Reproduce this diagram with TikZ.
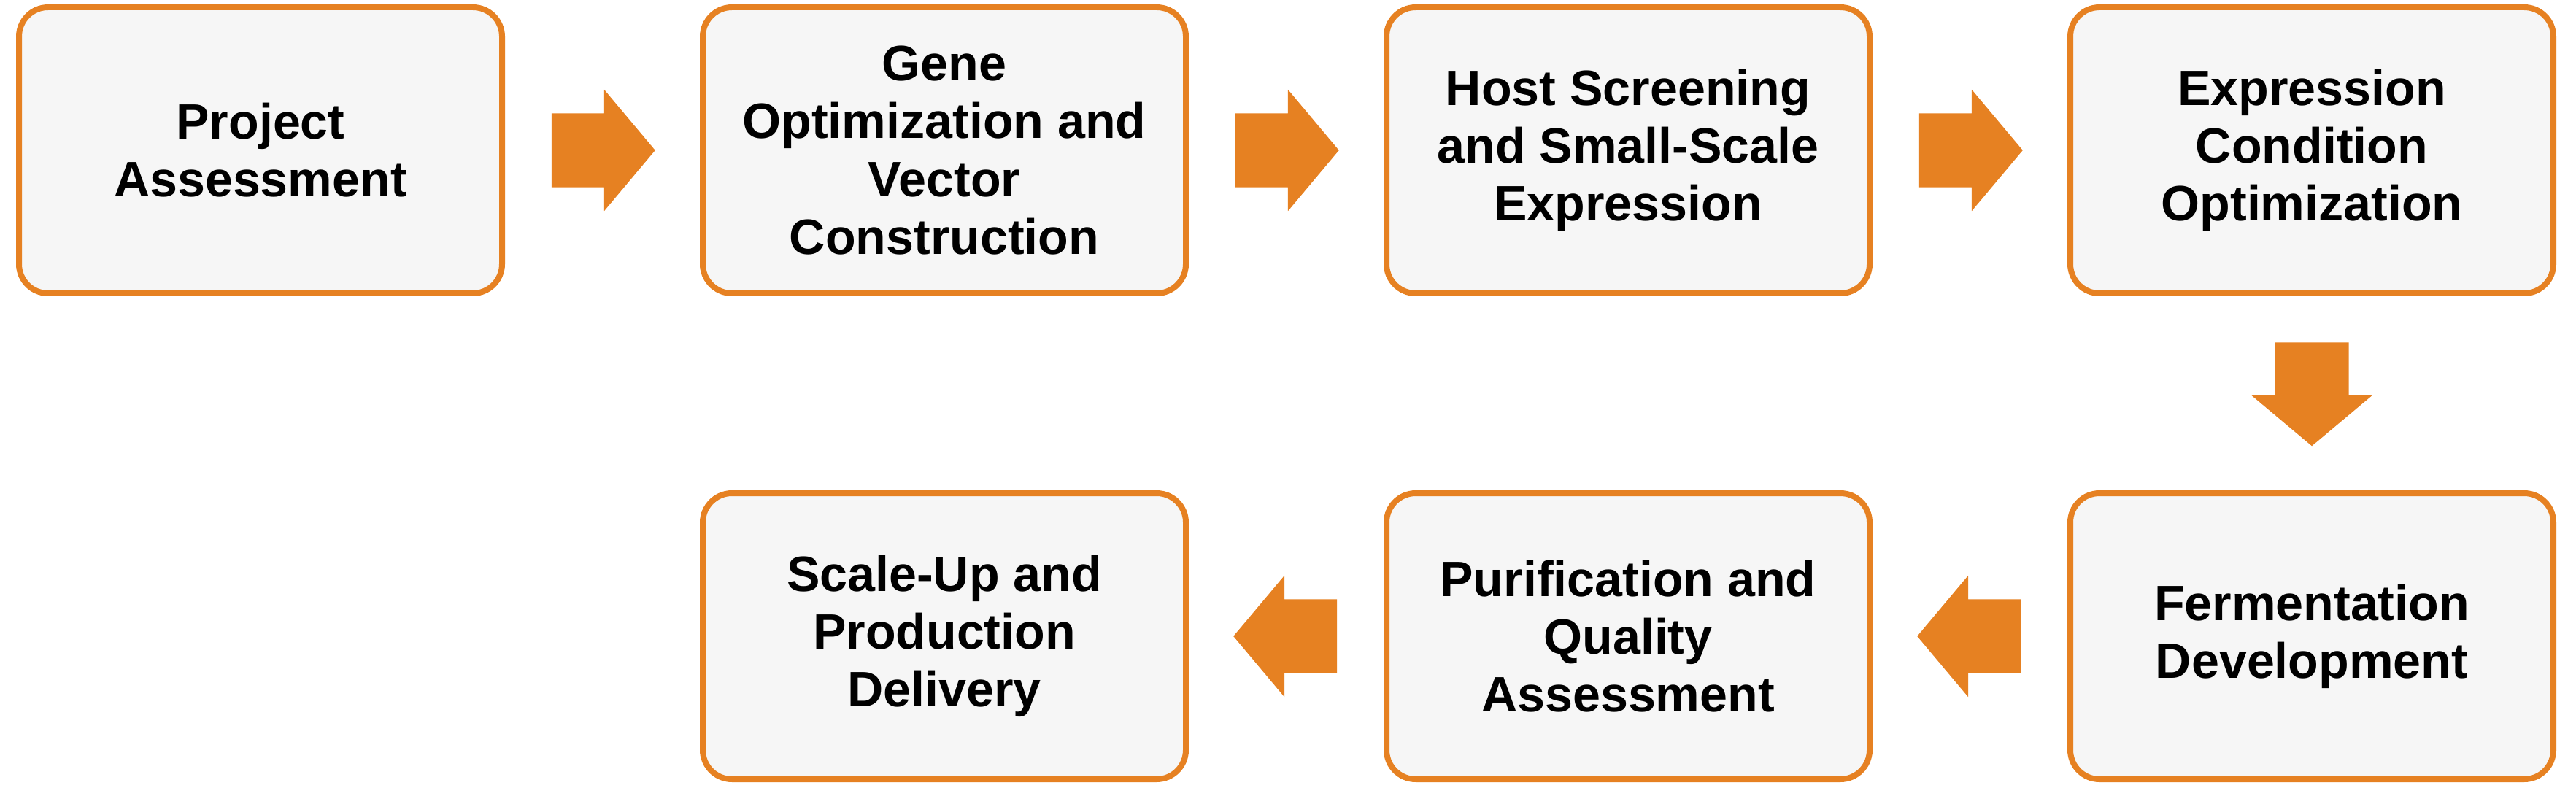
\documentclass[tikz,border=0pt]{standalone}
\usepackage{fontspec}
\setmainfont{Liberation Sans}
\usetikzlibrary{positioning,shapes.arrows}
\definecolor{stageorange}{RGB}{230,129,34}
\definecolor{stagefill}{RGB}{246,246,246}

\begin{document}
\begin{tikzpicture}[
    node distance=2.66cm and 2.67cm,
    stage/.style={draw=stageorange, line width=0.08cm, rounded corners=0.4cm, fill=stagefill,
                  minimum width=6.62cm, minimum height=3.92cm, align=center,
                  font=\bfseries\fontsize{19.4}{22.5}\selectfont},
    arr/.style={single arrow, fill=stageorange, draw=none, inner sep=0pt, inner ysep=0.5cm,
                minimum height=1.42cm, single arrow head extend=0.325cm,
                single arrow tip angle=100},
]
    \useasboundingbox (0,0) rectangle (35.30,-10.80);

    \node[stage] (p1) at (3.57,-2.06) {Project\\Assessment};
    \node[stage, right=of p1] (p2) {Gene\\Optimization and\\Vector\\Construction};
    \node[stage, right=of p2] (p3) {Host Screening\\and Small-Scale\\Expression};
    \node[stage, right=of p3] (p4) {Expression\\Condition\\Optimization};
    \node[stage, below=of p4] (p5) {Fermentation\\Development};
    \node[stage, left=of p5] (p6) {Purification and\\Quality\\Assessment};
    \node[stage, left=of p6] (p7) {Scale-Up and\\Production\\Delivery};

    \path (p1) -- (p2) node[midway, arr, xshift=-0.2cm] {};
    \path (p2) -- (p3) node[midway, arr, xshift=-0.2cm] {};
    \path (p3) -- (p4) node[midway, arr, xshift=-0.2cm] {};
    \path (p4) -- (p5) node[midway, arr, inner xsep=0.5cm, inner ysep=0pt,
                            shape border rotate=270, yshift=0.2cm] {};
    \path (p5) -- (p6) node[midway, arr, shape border rotate=180, xshift=0.2cm] {};
    \path (p6) -- (p7) node[midway, arr, shape border rotate=180, xshift=0.2cm] {};
\end{tikzpicture}
\end{document}
